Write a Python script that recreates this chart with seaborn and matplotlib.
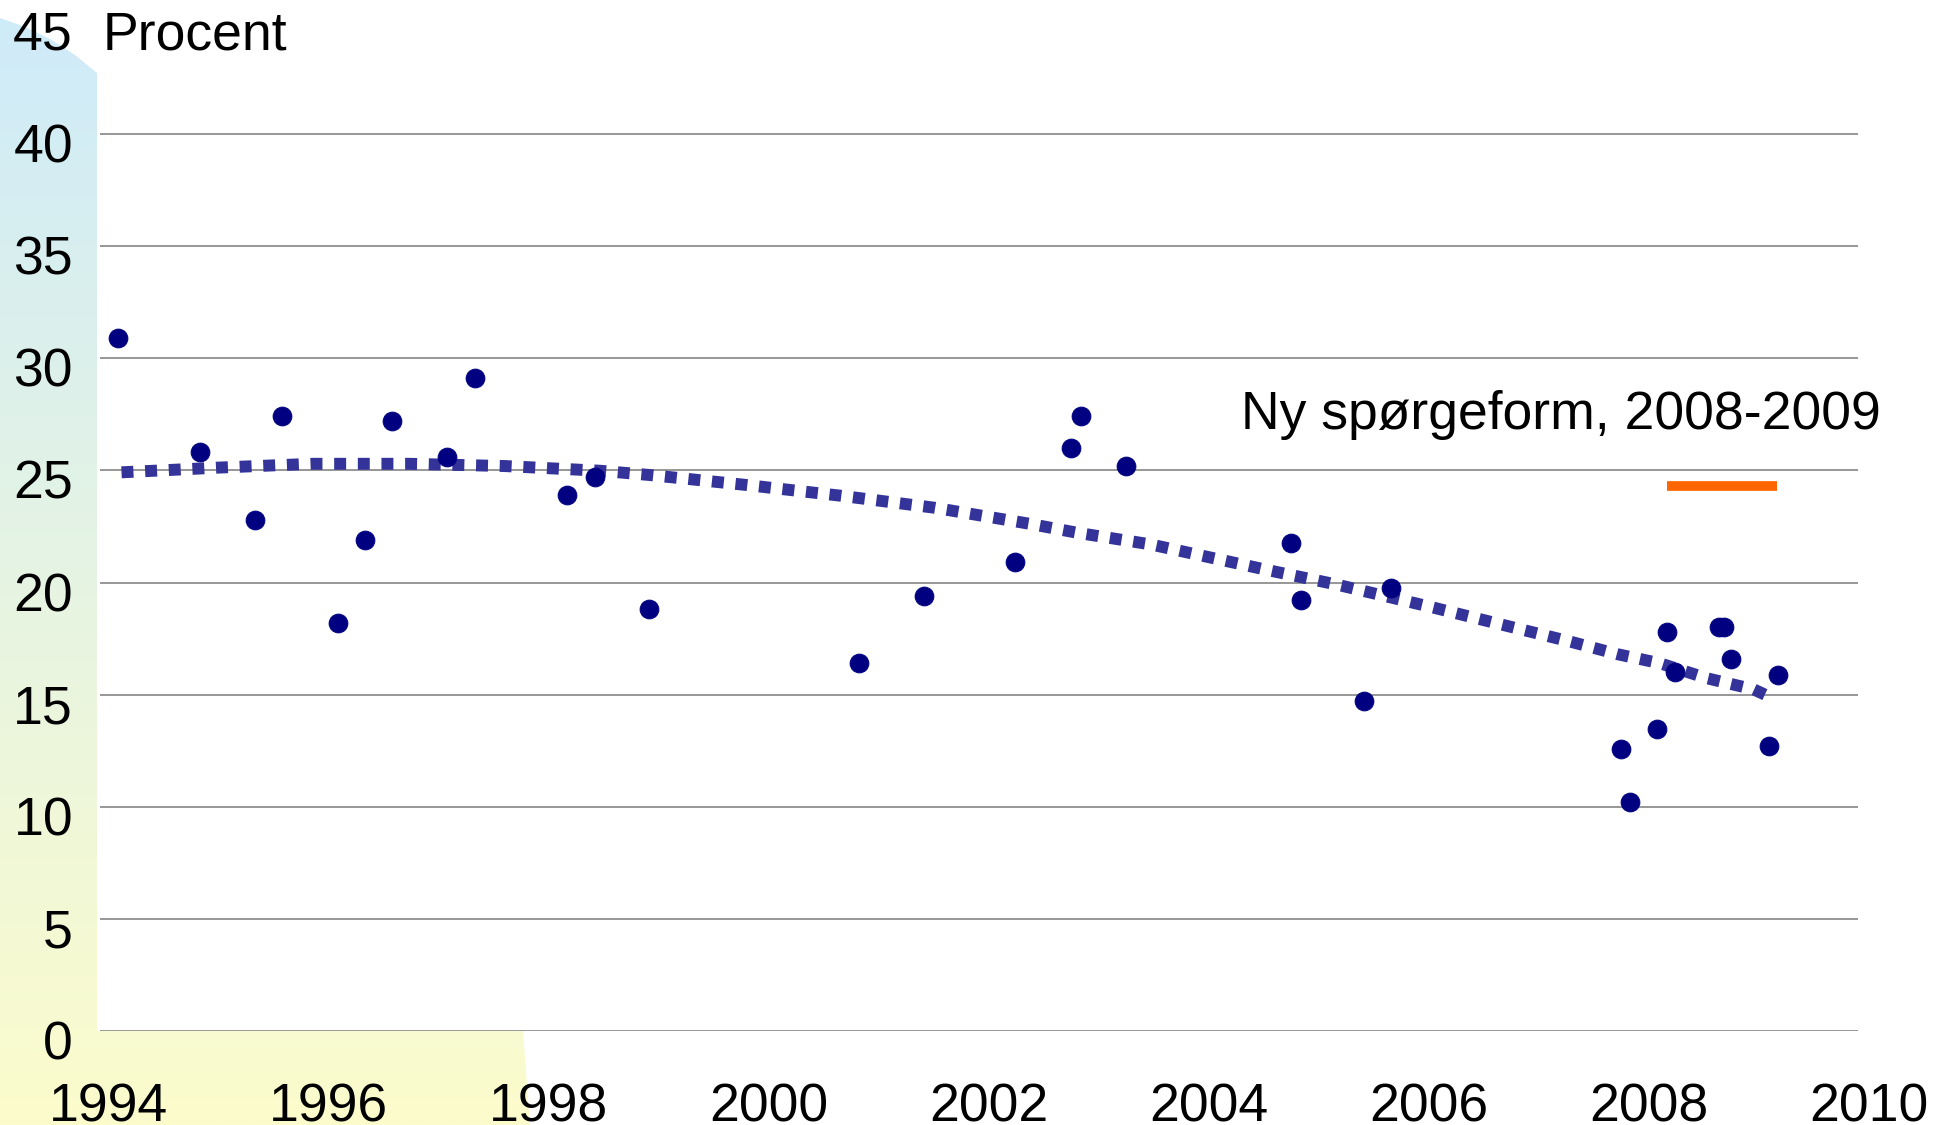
import numpy as np
import matplotlib
matplotlib.use("Agg")
import matplotlib.pyplot as plt
import seaborn as sns
from matplotlib.patches import Polygon

# ---------------- data ----------------
years = [1994.09, 1994.83, 1995.33, 1995.58, 1996.09, 1996.33, 1996.58, 1997.08,
         1997.33, 1998.17, 1998.42, 1998.91, 2000.82, 2001.41, 2002.24, 2002.75,
         2002.84, 2003.25, 2004.75, 2004.84, 2005.41, 2005.66, 2007.75, 2007.83,
         2008.07, 2008.16, 2008.24, 2008.64, 2008.68, 2008.75, 2009.09, 2009.17]
values = [30.9, 25.8, 22.8, 27.4, 18.2, 21.9, 27.2, 25.6,
          29.1, 23.9, 24.7, 18.8, 16.4, 19.4, 20.9, 26.0,
          27.4, 25.2, 21.75, 19.2, 14.7, 19.75, 12.6, 10.2,
          13.45, 17.8, 16.0, 18.0, 18.0, 16.6, 12.7, 15.9]
# polynomial trend line
trend_x = [1994.12, 1995.0, 1995.86, 1996.73, 1997.6, 1998.47, 1998.92,
           1999.79, 2000.65, 2001.51, 2002.38, 2002.80, 2003.47, 2004.53,
           2005.17, 2006.01, 2007.29, 2007.71, 2008.1, 2008.53, 2008.95, 2009.1]
trend_y = [24.91, 25.12, 25.29, 25.29, 25.19, 24.98, 24.79,
           24.35, 23.87, 23.33, 22.61, 22.22, 21.7, 20.56,
           19.9, 18.92, 17.36, 16.81, 16.4, 15.73, 15.24, 14.9]
new_form_x = [2008.16, 2009.16]
new_form_y = [24.3, 24.3]
x_ticks = [1994, 1996, 1998, 2000, 2002, 2004, 2006, 2008, 2010]
y_ticks = [0, 5, 10, 15, 20, 25, 30, 35, 40, 45]
y_unit = "Procent"
note = "Ny spørgeform, 2008-2009"

# ---------------- style ----------------
sns.set_theme(style="white")
plt.rcParams["font.family"] = ["Liberation Sans", "DejaVu Sans"]
FS = 38.5

W, H = 1951, 1125
fig = plt.figure(figsize=(W / 100, H / 100), dpi=100)
fig.patch.set_facecolor("white")

# background decorative gradient shape
bg = fig.add_axes([0, 0, 1, 1], zorder=0)
bg.set_xlim(0, W)
bg.set_ylim(H, 0)
bg.axis("off")
top = np.array([206, 235, 250]) / 255.0
bot = np.array([252, 252, 204]) / 255.0
t = np.linspace(0, 1, 400)[:, None]
grad = (top[None, :] * (1 - t) + bot[None, :] * t)[:, None, :]
grad = np.repeat(grad, 2, axis=1)
img = bg.imshow(grad, extent=(0, W, H, 0), aspect="auto", interpolation="bilinear")
shape = Polygon([(0, 18), (25, 27), (50, 39), (75, 55), (97, 73), (97, 1031),
                 (523, 1031), (530, H), (0, H)], closed=True,
                transform=bg.transData, fc="none", ec="none")
bg.add_patch(shape)
img.set_clip_path(shape)

# main axes
L, R = 99.5, 1858.0
B, T = 1031.3, 21.5
ax = fig.add_axes([L / W, (H - B) / H, (R - L) / W, (B - T) / H], zorder=1)
ax.set_facecolor("none")
for s in ax.spines.values():
    s.set_visible(False)

# gridlines
procent_gap = (308 - L) / (R - L)
for v in y_ticks:
    ax.axhline(v, xmin=procent_gap if v == 45 else 0, xmax=1,
               color="#7a7a7a", lw=1.1, zorder=0.5)

# trend line
sns.lineplot(x=trend_x, y=trend_y, sort=False, ax=ax, color="#333399", lw=8.6,
             linestyle=(0, (1.0, 0.98)), dash_capstyle="butt", zorder=2)

# points
sns.scatterplot(x=years, y=values, color="#000080", s=185, edgecolor="#000080",
                linewidth=0.6, ax=ax, zorder=3)

# orange marker line for new question form
sns.lineplot(x=new_form_x, y=new_form_y, color="#FF6600", lw=7, ax=ax,
             solid_capstyle="butt", zorder=3)

ax.set_xlim(1993.92, 2009.9)
ax.set_ylim(0, 45)
ax.set_xticks([])
ax.set_yticks([])
ax.set_xlabel("")
ax.set_ylabel("")

# y tick labels
for v in y_ticks:
    ax.annotate(str(v), xy=(0, v), xycoords=("axes fraction", "data"),
                xytext=(-26.5, -28.5), textcoords="offset pixels",
                ha="right", va="baseline", fontsize=FS, color="black",
                annotation_clip=False)

# x tick labels
for yr in x_ticks:
    ax.annotate(str(yr), xy=(yr, 0), xycoords=("data", "axes fraction"),
                xytext=(0, -90), textcoords="offset pixels",
                ha="center", va="baseline", fontsize=FS, color="black",
                annotation_clip=False)

# unit label
ax.annotate(y_unit, xy=(0, 45), xycoords=("axes fraction", "data"),
            xytext=(3, -28.5), textcoords="offset pixels",
            ha="left", va="baseline", fontsize=FS, color="black",
            annotation_clip=False)

# note
ax.annotate(note, xy=(1, 26.84), xycoords=("axes fraction", "data"),
            xytext=(23, 0), textcoords="offset pixels",
            ha="right", va="baseline", fontsize=FS, color="black",
            annotation_clip=False)

fig.savefig("out.png", dpi=100)
